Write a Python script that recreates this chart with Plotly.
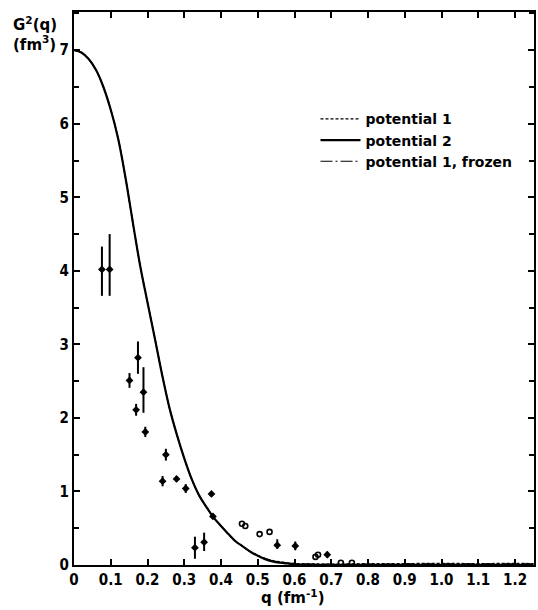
import plotly.graph_objects as go

# Theory curves
q_curve = [0.0, 0.02, 0.04, 0.06, 0.08, 0.10, 0.12, 0.14, 0.16, 0.18, 0.20, 0.22, 0.24,
           0.26, 0.28, 0.30, 0.32, 0.34, 0.36, 0.38, 0.40, 0.42, 0.44, 0.46, 0.48, 0.50,
           0.52, 0.54, 0.56, 0.58, 0.60, 0.65, 0.70, 0.80, 0.90, 1.00, 1.10, 1.20, 1.25]
pot2 = [7.00, 6.97, 6.88, 6.73, 6.50, 6.19, 5.80, 5.27, 4.66, 4.07, 3.57, 3.08, 2.58,
        2.13, 1.77, 1.45, 1.17, 0.95, 0.79, 0.645, 0.53, 0.42, 0.32, 0.25, 0.18, 0.125,
        0.08, 0.05, 0.032, 0.02, 0.01, 0.004, 0.002, 0.001, 0.001, 0.001, 0.001, 0.001, 0.001]
pot1 = [7.00, 6.97, 6.88, 6.73, 6.50, 6.19, 5.80, 5.27, 4.66, 4.07, 3.57, 3.08, 2.58,
        2.13, 1.77, 1.45, 1.17, 0.95, 0.79, 0.645, 0.53, 0.42, 0.32, 0.25, 0.18, 0.13,
        0.09, 0.06, 0.045, 0.03, 0.022, 0.015, 0.012, 0.018, 0.02, 0.022, 0.02, 0.022, 0.02]
pot1_frozen = [7.00, 6.97, 6.88, 6.73, 6.50, 6.19, 5.80, 5.27, 4.66, 4.07, 3.57, 3.08, 2.58,
               2.13, 1.77, 1.45, 1.17, 0.95, 0.79, 0.645, 0.53, 0.42, 0.32, 0.25, 0.18, 0.13,
               0.088, 0.058, 0.04, 0.025, 0.016, 0.01, 0.008, 0.012, 0.014, 0.015, 0.014, 0.015, 0.014]

# Experimental points with error bars
q_data = [0.076, 0.097, 0.151, 0.169, 0.174, 0.189, 0.194, 0.241, 0.250, 0.279, 0.304,
          0.329, 0.354, 0.374, 0.378, 0.553, 0.602, 0.689]
g_data = [4.02, 4.02, 2.51, 2.11, 2.82, 2.35, 1.81, 1.14, 1.50, 1.17, 1.04,
          0.235, 0.31, 0.966, 0.66, 0.27, 0.26, 0.14]
err_up = [0.31, 0.48, 0.10, 0.08, 0.22, 0.34, 0.07, 0.07, 0.08, 0.04, 0.06,
          0.15, 0.13, 0.03, 0.03, 0.08, 0.06, 0.04]
err_dn = [0.36, 0.36, 0.10, 0.08, 0.22, 0.28, 0.07, 0.07, 0.08, 0.04, 0.06,
          0.15, 0.12, 0.03, 0.03, 0.05, 0.06, 0.04]

# Small open points
q_open = [0.457, 0.466, 0.505, 0.532, 0.657, 0.664, 0.726, 0.756]
g_open = [0.56, 0.53, 0.42, 0.45, 0.11, 0.14, 0.03, 0.03]

x_ticks = [0.0, 0.1, 0.2, 0.3, 0.4, 0.5, 0.6, 0.7, 0.8, 0.9, 1.0, 1.1, 1.2]
x_labels = ["0", "0.1", "0.2", "0.3", "0.4", "0.5", "0.6", "0.7", "0.8", "0.9", "1.0", "1.1", "1.2"]

TICKFONT = "DejaVu Sans Condensed, DejaVu Sans, sans-serif"
FONT = "DejaVu Sans, sans-serif"

fig = go.Figure()
fig.add_trace(go.Scatter(x=q_curve, y=pot1, mode="lines", name="potential 1",
                         line=dict(color="black", width=1.2, dash="3px,2px", shape="spline")))
fig.add_trace(go.Scatter(x=q_curve, y=pot2, mode="lines", name="potential 2",
                         line=dict(color="black", width=2.2, shape="spline")))
fig.add_trace(go.Scatter(x=q_curve, y=pot1_frozen, mode="lines", name="potential 1, frozen",
                         line=dict(color="black", width=1.2, dash="12px,3px,2px,3px", shape="spline")))
fig.add_trace(go.Scatter(x=q_data, y=g_data, mode="markers", showlegend=False,
                         marker=dict(symbol="diamond", size=6, color="black"),
                         error_y=dict(type="data", array=err_up, arrayminus=err_dn,
                                      color="black", thickness=2, width=0)))
fig.add_trace(go.Scatter(x=q_open, y=g_open, mode="markers", showlegend=False,
                         marker=dict(symbol="circle-open", size=5, color="black",
                                     line=dict(width=1.6, color="black"))))

axis_common = dict(showline=True, linecolor="black", linewidth=2, mirror="allticks",
                   ticks="inside", ticklen=6, tickwidth=1.5, tickcolor="black",
                   showgrid=False, zeroline=False,
                   tickfont=dict(family=TICKFONT, size=15, color="black", weight="bold"))

fig.update_xaxes(range=[0, 1.2515], tickvals=x_ticks, ticktext=x_labels, **axis_common)
fig.update_yaxes(range=[0, 7.52], tick0=0, dtick=1,
                 minor=dict(dtick=0.5, ticks="inside", ticklen=5, tickwidth=1.5,
                            tickcolor="black", showgrid=False),
                 **axis_common)

fig.add_annotation(text="G<sup>2</sup>(q)<br>(fm<sup>3</sup>)", xref="paper", yref="paper",
                   x=-0.138, y=1.0, xanchor="left", yanchor="top", showarrow=False, align="left",
                   font=dict(family=FONT, size=15, color="black", weight="bold"))
fig.add_annotation(text="q (fm<sup>-1</sup>)", xref="paper", yref="paper",
                   x=0.477, y=-0.058, xanchor="center", yanchor="middle", showarrow=False,
                   font=dict(family=FONT, size=15, color="black", weight="bold"))

fig.update_layout(
    width=538, height=610,
    margin=dict(l=74, r=2, t=12, b=45),
    paper_bgcolor="white", plot_bgcolor="white",
    showlegend=True,
    legend=dict(x=0.525, y=0.835, xanchor="left", yanchor="top", bgcolor="rgba(0,0,0,0)",
                font=dict(family=FONT, size=14, color="black", weight="bold"),
                tracegroupgap=0, itemwidth=40),
)

fig.write_html("out.html")
